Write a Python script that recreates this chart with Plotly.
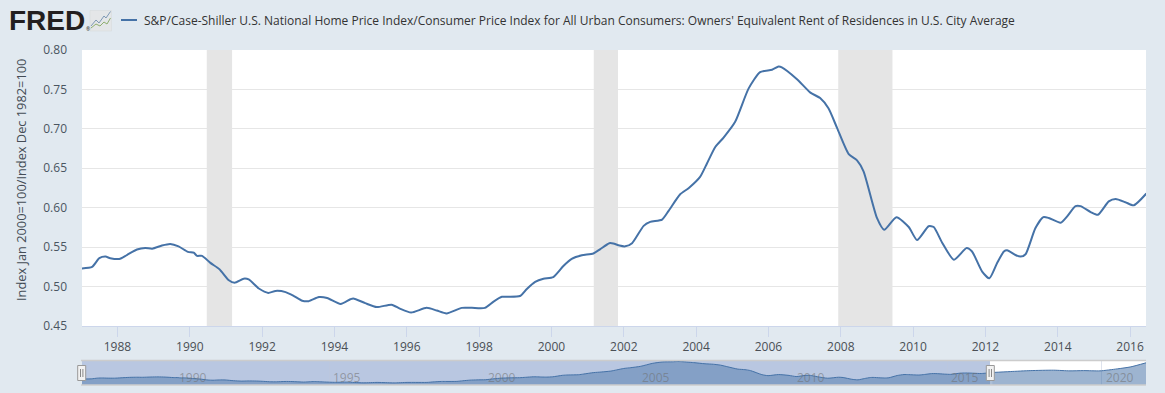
import plotly.graph_objects as go

series_name = "S&P/Case-Shiller U.S. National Home Price Index/Consumer Price Index for All Urban Consumers: Owners' Equivalent Rent of Residences in U.S. City Average"
y_title = "Index Jan 2000=100/Index Dec 1982=100"

years = [1987.0,1987.3,1987.5,1987.67,1987.8,1988.05,1988.26,1988.54,1988.77,1988.96,1989.23,1989.46,1989.69,1989.95,1990.11,1990.2,1990.34,1990.57,1990.82,1991.08,1991.24,1991.49,1991.63,1991.91,1992.17,1992.37,1992.65,1992.88,1993.11,1993.29,1993.57,1993.8,1994.17,1994.44,
         1994.52,1994.85,1995.17,1995.58,1995.81,1996.12,1996.55,1996.83,1997.1,1997.52,1997.8,1998.16,1998.4,1998.63,1998.81,1999.13,1999.32,1999.55,1999.78,2000.05,2000.33,2000.56,2000.84,2001.16,2001.35,2001.6,2001.71,2001.88,
         2002.04,2002.23,2002.55,2002.73,2003.06,2003.24,2003.56,2003.8,2004.11,2004.3,2004.53,2004.76,2005.08,2005.45,2005.77,2006.1,2006.28,2006.37,2006.79,2007.16,2007.43,2007.66,2007.9,2008.22,2008.45,2008.63,2009.0,2009.2,
         2009.54,2009.88,2010.11,2010.43,2010.57,2010.8,2011.13,2011.48,2011.63,2011.91,2012.11,2012.32,2012.51,2012.6,2012.83,2012.97,2013.11,2013.38,2013.6,2013.75,2014.08,2014.26,2014.49,2014.63,2014.91,2015.11,2015.41,2015.6,2015.87,2016.1,2016.45]
values = [.523,.525,.536,.538,.536,.535,.540,.547,.549,.548,.552,.554,.551,.544,.543,.539,.539,.530,.522,.508,.505,.510,.509,.4975,.492,.4945,.493,.488,.482,.4815,.4867,.4855,.478,.484,
          .485,.479,.474,.477,.472,.467,.473,.4696,.466,.473,.473,.473,.481,.487,.487,.488,.497,.506,.510,.512,.526,.535,.5396,.542,.5475,.555,.5546,.552,
          .551,.555,.577,.582,.585,.596,.617,.625,.639,.656,.677,.689,.709,.751,.772,.775,.779,.778,.763,.746,.739,.726,.701,.668,.660,.646,.587,.572,
          .588,.5755,.559,.5765,.5755,.556,.534,.549,.5445,.519,.5105,.5295,.5445,.546,.540,.538,.541,.574,.588,.587,.581,.589,.602,.602,.5945,.591,.608,.611,.607,.603,.618]
later_years = [2017.04,2017.7,2018.44,2018.97,2019.41,2019.94,2020.5,2020.94,2021.43]
later_values = [.632,.646,.652,.642,.646,.642,.671,.701,.760]

recessions = [(1990.47, 1991.17), (2001.17, 2001.84), (2007.93, 2009.43)]
nav_ticks = [1990, 1995, 2000, 2005, 2010, 2015, 2020]
x_range = [1987.02, 2016.44]
y_range = [0.45, 0.80]
nav_range = [1987.0, 2021.43]
nav_y_range = [0.435, 0.794]

W, H = 1165, 393
BG = "#e1e9f0"
FONT = "Open Sans"
LINE = "#4572a7"

def px(x): return x / W
def py(y): return 1 - y / H

fig = go.Figure()
for a, b in recessions:
    fig.add_trace(go.Scatter(x=[a, a, b, b, a], y=[y_range[0], y_range[1], y_range[1], y_range[0], y_range[0]],
                             mode="none", fill="toself", fillcolor="#e5e5e5", showlegend=False, hoverinfo="skip"))
fig.add_trace(go.Scatter(x=years, y=values, mode="lines", name=series_name,
                         line=dict(color=LINE, width=2, shape="spline", smoothing=0.6),
                         hoverinfo="x+y", showlegend=False))
fig.add_trace(go.Scatter(x=years, y=values, mode="lines",
                         xaxis="x2", yaxis="y2", fill="tozeroy",
                         fillcolor="rgba(69,114,167,0.45)",
                         line=dict(color=LINE, width=1, shape="spline", smoothing=0.6),
                         showlegend=False, hoverinfo="skip"))
fig.add_trace(go.Scatter(x=years[-1:] + later_years, y=values[-1:] + later_values, mode="lines",
                         xaxis="x2", yaxis="y2", fill="tozeroy",
                         fillcolor="rgba(69,114,167,0.53)",
                         line=dict(color=LINE, width=1, shape="spline", smoothing=0.6),
                         showlegend=False, hoverinfo="skip"))

shapes = []
shapes.append(dict(type="rect", xref="paper", yref="paper", x0=px(82), x1=px(990), y0=py(385), y1=py(360.5),
                   fillcolor="#b9c7e1", line_width=0, layer="below"))
for yy in (360.5, 385):
    shapes.append(dict(type="line", xref="paper", yref="paper", x0=px(81), x1=px(1146), y0=py(yy), y1=py(yy),
                       line=dict(color="#cccccc", width=1.5), layer="above"))
for cx in (81.7, 990.3):
    shapes.append(dict(type="rect", xref="paper", yref="paper", x0=px(cx-4), x1=px(cx+4), y0=py(365.5), y1=py(380.5),
                       fillcolor="#f2f2f2", line=dict(color="#999999", width=1), layer="above"))
    for d in (-1.2, 1.2):
        shapes.append(dict(type="line", xref="paper", yref="paper", x0=px(cx+d), x1=px(cx+d), y0=py(369), y1=py(377),
                           line=dict(color="#888888", width=1), layer="above"))
shapes.append(dict(type="line", xref="paper", yref="paper", x0=px(121), x1=px(137), y0=py(20), y1=py(20),
                   line=dict(color=LINE, width=2)))
shapes.append(dict(type="rect", xref="paper", yref="paper", x0=px(90), x1=px(111.5), y0=py(31), y1=py(10.5),
                   fillcolor="#e4e6e8", line=dict(color="#d5d8db", width=0.5)))
def logo_path(pts):
    return "M " + " L ".join(f"{px(a):.5f},{py(b):.5f}" for a, b in pts)
shapes.append(dict(type="path", xref="paper", yref="paper", path=logo_path([(91,26),(96,20),(99,23),(104,16),(106,18),(110.5,11.5)]),
                   line=dict(color="#7d98b5", width=1)))
shapes.append(dict(type="path", xref="paper", yref="paper", path=logo_path([(91,28),(96,24),(100,26),(104,22),(107,24),(110.5,18)]),
                   line=dict(color="#8fae6f", width=1)))

annotations = [
    dict(text="<b>FRED</b>", xref="paper", yref="paper", x=px(6.5), y=py(21), xanchor="left", yanchor="middle",
         showarrow=False, font=dict(family="Liberation Sans", size=28, color="#231f20")),
    dict(text="®", xref="paper", yref="paper", x=px(84), y=py(29), xanchor="left", yanchor="middle",
         showarrow=False, font=dict(family=FONT, size=5, color="#231f20")),
    dict(text=series_name, xref="paper", yref="paper", x=px(141.5), y=py(20), xanchor="left", yanchor="middle",
         showarrow=False, font=dict(family=FONT, size=12, color="#333333")),
    dict(text=y_title, xref="paper", yref="paper", x=px(21), y=py(180), textangle=-90, xanchor="center", yanchor="middle",
         showarrow=False, font=dict(family=FONT, size=12.8, color="#444c55")),
]
for t in nav_ticks:
    annotations.append(dict(text=str(t), xref="x2", yref="paper", x=t, y=py(377), xanchor="left", yanchor="middle",
                            xshift=2, showarrow=False, font=dict(family=FONT, size=12, color="rgba(110,110,110,0.55)")))

fig.update_layout(
    width=W, height=H, autosize=False,
    margin=dict(l=0, r=0, t=0, b=0),
    paper_bgcolor=BG, plot_bgcolor="#ffffff",
    shapes=shapes, annotations=annotations,
    xaxis=dict(domain=[px(82), px(1146)], range=x_range, anchor="y", tick0=1988, dtick=2, automargin=False,
               tickformat="d", showgrid=False, zeroline=False, showline=True, linecolor="#ccd6eb", linewidth=1,
               ticks="outside", ticklen=10, tickcolor="#ccd6eb", tickwidth=1,
               tickfont=dict(family=FONT, size=12, color="#4a4f55")),
    yaxis=dict(domain=[py(326), py(50)], range=y_range, anchor="x", tick0=0.45, dtick=0.05, tickformat=".2f", automargin=False,
               showgrid=True, gridcolor="#e6e6e6", gridwidth=1, zeroline=False, showline=False, ticks="",
               ticklabelstandoff=14,
               tickfont=dict(family=FONT, size=12, color="#4a5560")),
    xaxis2=dict(domain=[px(82), px(1146)], range=nav_range, anchor="y2", tickvals=nav_ticks, showticklabels=False, automargin=False,
                showgrid=True, gridcolor="rgba(190,200,220,0.5)", gridwidth=1, zeroline=False, showline=False, ticks=""),
    yaxis2=dict(domain=[py(385), py(360.5)], range=nav_y_range, anchor="x2", showticklabels=False, automargin=False,
                showgrid=False, zeroline=False, showline=False, ticks=""),
)

fig.write_html("out.html", config=dict(displayModeBar=False),
               post_script="document.body.style.margin='0';document.body.style.background='#e1e9f0';")
